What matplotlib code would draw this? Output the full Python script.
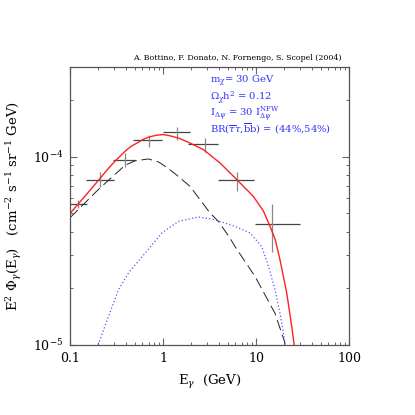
import matplotlib
matplotlib.use('Agg')
import matplotlib.pyplot as plt
import numpy as np
from matplotlib.ticker import LogLocator, NullFormatter, FuncFormatter

plt.rcParams['font.family'] = ['DejaVu Serif']
plt.rcParams['mathtext.fontset'] = 'dejavuserif'

# Binned measurement crosses (energy bins, flux with error)
pt_e     = [0.123, 0.21, 0.39, 0.71, 1.40, 2.83, 6.2, 14.8]
pt_e_lo  = [0.100, 0.147, 0.29, 0.475, 1.00, 1.86, 3.9, 9.75]
pt_e_hi  = [0.151, 0.30, 0.50, 0.97, 1.95, 3.9, 9.5, 29.7]
pt_f     = [5.62e-5, 7.52e-5, 9.55e-5, 1.22e-4, 1.345e-4, 1.17e-4, 7.48e-5, 4.4e-5]
pt_f_lo  = [5.36e-5, 6.9e-5, 8.85e-5, 1.12e-4, 1.23e-4, 1.06e-4, 6.6e-5, 3.13e-5]
pt_f_hi  = [5.9e-5, 8.3e-5, 1.05e-4, 1.31e-4, 1.44e-4, 1.26e-4, 8.3e-5, 5.62e-5]

# Total (signal + background), red solid
tot_e = [0.1, 0.15, 0.2, 0.25, 0.3, 0.4, 0.46, 0.54, 0.6, 0.7, 0.85, 1.0,
         1.19, 1.5, 1.95, 2.71, 4.10, 6.2, 9.35, 11.97, 14.15, 16.1, 18.1,
         21.4, 24.2, 25.7]
tot_f = [5.0e-5, 6.3e-5, 7.45e-5, 8.5e-5, 9.4e-5, 1.08e-4, 1.14e-4, 1.19e-4,
         1.23e-4, 1.27e-4, 1.30e-4, 1.31e-4, 1.29e-4, 1.25e-4, 1.18e-4,
         1.09e-4, 9.25e-5, 7.55e-5, 6.15e-5, 5.15e-5, 4.26e-5, 3.62e-5,
         2.83e-5, 1.88e-5, 1.25e-5, 1.0e-5]

# Background, black long dashes
bkg_e = [0.1, 0.2, 0.3, 0.39, 0.5, 0.695, 0.9, 1.1, 1.35, 1.95, 2.50, 3.20,
         3.93, 5.25, 5.93, 9.75, 16.0, 20.5]
bkg_f = [4.74e-5, 6.67e-5, 8.0e-5, 9.0e-5, 9.5e-5, 9.72e-5, 9.35e-5, 8.75e-5,
         8.1e-5, 6.95e-5, 5.9e-5, 5.02e-5, 4.53e-5, 3.69e-5, 3.33e-5,
         2.31e-5, 1.47e-5, 1.02e-5]

# Neutralino signal, blue dotted
sig_e = [0.20, 0.258, 0.331, 0.424, 0.64, 0.97, 1.46, 2.40, 3.62, 5.93,
         8.62, 11.5, 13.6, 16.0, 18.1, 19.7, 20.7]
sig_f = [1.0e-5, 1.41e-5, 1.96e-5, 2.41e-5, 3.07e-5, 3.93e-5, 4.53e-5,
         4.78e-5, 4.62e-5, 4.26e-5, 3.93e-5, 3.33e-5, 2.61e-5, 1.96e-5,
         1.47e-5, 1.15e-5, 1.0e-5]

fig = plt.figure(figsize=(4.15, 4.15), dpi=100)
ax = fig.add_axes([0.169, 0.169, 0.672, 0.670])
ax.set_xscale('log')
ax.set_yscale('log')

# crosses: horizontal bin width dark, vertical error lighter
pt_e = np.array(pt_e)
pt_f = np.array(pt_f)
xerr = [pt_e - np.array(pt_e_lo), np.array(pt_e_hi) - pt_e]
yerr = [pt_f - np.array(pt_f_lo), np.array(pt_f_hi) - pt_f]
ax.errorbar(pt_e, pt_f, xerr=xerr, fmt='none', ecolor='#444444',
            elinewidth=0.9, capsize=0)
ax.errorbar(pt_e, pt_f, yerr=yerr, fmt='none', ecolor='#888888',
            elinewidth=0.9, capsize=0)

ax.plot(tot_e, tot_f, color='#ff2020', lw=1.0)
ax.plot(bkg_e, bkg_f, color='#222222', lw=0.7, dashes=(11, 5))
ax.plot(sig_e, sig_f, color='#5555ff', lw=0.9, ls=(0, (1, 1.8)))

ax.set_xlim(0.1, 100)
ax.set_ylim(1e-5, 3e-4)

ax.xaxis.set_major_formatter(FuncFormatter(lambda v, p: '%g' % v))
ax.xaxis.set_minor_formatter(NullFormatter())
ax.yaxis.set_minor_formatter(NullFormatter())
ax.yaxis.set_minor_locator(LogLocator(base=10, subs=np.arange(2, 10)))
ax.tick_params(which='both', direction='in', top=True, right=True,
               color='#666666', labelsize=9)
ax.tick_params(which='major', length=5, width=0.8, pad=5)
ax.tick_params(which='minor', length=2.5, width=0.7)
for s in ax.spines.values():
    s.set_color('#555555')
    s.set_linewidth(0.9)

ax.set_xlabel(r'E$_\gamma$  (GeV)', fontsize=9.5, labelpad=6)
ax.set_ylabel(r'E$^2$ $\Phi_\gamma$(E$_\gamma$)   (cm$^{-2}$ s$^{-1}$ sr$^{-1}$ GeV)',
              fontsize=9.5, labelpad=6)

fig.text(0.824, 0.855, 'A. Bottino, F. Donato, N. Fornengo, S. Scopel (2004)',
         fontsize=5.7, ha='right', va='baseline')

blue = '#3030ff'
lines = [r'm$_\chi$= 30 GeV',
         r'$\Omega_\chi$h$^2$ = 0.12',
         r'I$_{\Delta\psi}$ = 30 I$^{\rm NFW}_{\Delta\psi}$',
         r'BR($\overline{\tau}\tau$,$\overline{\rm b}$b) = (44%,54%)']
for i, t in enumerate(lines):
    ax.text(0.50, 0.94 - i * 0.059, t, transform=ax.transAxes,
            color=blue, fontsize=7.2, va='baseline')

fig.savefig('out.png', dpi=100)
